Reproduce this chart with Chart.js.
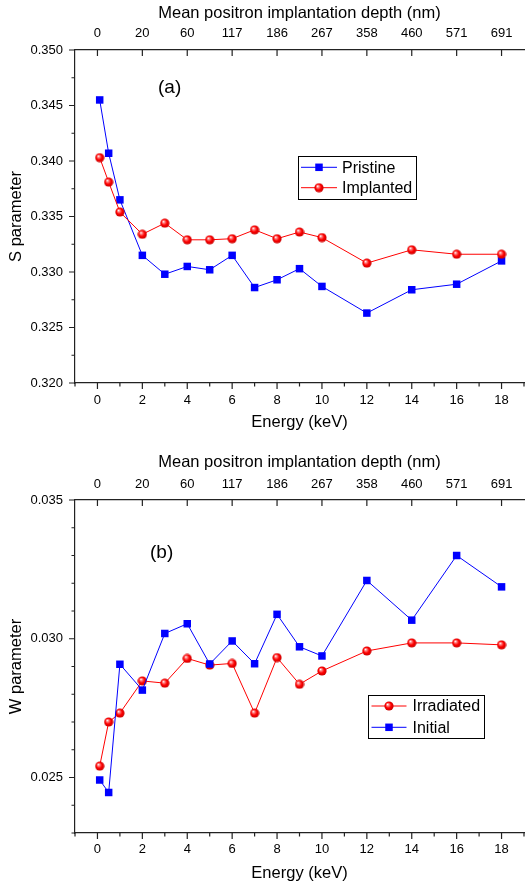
<!DOCTYPE html>
<html>
<head>
<meta charset="utf-8">
<script src="https://cdn.jsdelivr.net/npm/chart.js@4.4.0/dist/chart.umd.min.js"></script>
<style>
html, body { margin: 0; padding: 0; background: #fff; overflow: hidden; }
.panel { position: absolute; left: 0; width: 530px; height: 443px; }
</style>
</head>
<body>
<div class="panel" style="top:0"><canvas id="chartS" width="530" height="443"></canvas></div>
<div class="panel" style="top:443px"><canvas id="chartW" width="530" height="443"></canvas></div>
<script>
// beam energies (keV)
const energy = [0.1, 0.5, 1, 2, 3, 4, 5, 6, 7, 8, 9, 10, 12, 14, 16, 18];

// (a) S parameter
const sPristine  = [0.3455, 0.3407, 0.3365, 0.3315, 0.3298, 0.3305, 0.3302, 0.3315, 0.3286, 0.3293, 0.3303, 0.3287, 0.3263, 0.3284, 0.3289, 0.3310];
const sImplanted = [0.3403, 0.3381, 0.3354, 0.3334, 0.3344, 0.3329, 0.3329, 0.3330, 0.3338, 0.3330, 0.3336, 0.3331, 0.3308, 0.3320, 0.3316, 0.3316];

// (b) W parameter
const wIrradiated = [0.02541, 0.02700, 0.02732, 0.02848, 0.02840, 0.02929, 0.02905, 0.02911, 0.02732, 0.02932, 0.02836, 0.02884, 0.02956, 0.02985, 0.02985, 0.02978];
const wInitial    = [0.02491, 0.02446, 0.02908, 0.02815, 0.03019, 0.03054, 0.02909, 0.02992, 0.02910, 0.03088, 0.02971, 0.02938, 0.03210, 0.03067, 0.03300, 0.03187];

// axis ticks
const energyTicks = [0, 2, 4, 6, 8, 10, 12, 14, 16, 18];
const energyMinor = [-1, 1, 3, 5, 7, 9, 11, 13, 15, 17, 19];
const depthLabels = ['0', '20', '60', '117', '186', '267', '358', '460', '571', '691'];
const sTicks = [0.320, 0.325, 0.330, 0.335, 0.340, 0.345, 0.350];
const sMinor = [0.3225, 0.3275, 0.3325, 0.3375, 0.3425, 0.3475];
const wTicks = [0.025, 0.030, 0.035];
const wMinor = [0.023, 0.024, 0.026, 0.027, 0.028, 0.029, 0.031, 0.032, 0.033, 0.034];

const FONT = '"Liberation Sans", Arial, Helvetica, sans-serif';
const axisColor = '#222';
Chart.defaults.font.family = FONT;
Chart.defaults.color = '#000';

function makeBall() {
  const c = document.createElement('canvas');
  c.width = 10; c.height = 10;
  const g = c.getContext('2d');
  const grad = g.createRadialGradient(3.5, 3.3, 0.2, 5, 5, 5);
  grad.addColorStop(0, '#ffffff');
  grad.addColorStop(0.22, '#ff8080');
  grad.addColorStop(0.55, '#ff0000');
  grad.addColorStop(1, '#c00000');
  g.fillStyle = grad;
  g.beginPath();
  g.arc(5, 5, 4.6, 0, Math.PI * 2);
  g.fill();
  return c;
}
const ball = makeBall();

function pts(ys) {
  return energy.map((e, i) => ({ x: e, y: ys[i] }));
}

function squareSet(label, ys) {
  return {
    label: label, data: pts(ys),
    borderColor: '#0000ff', borderWidth: 1,
    pointStyle: 'rect', pointRadius: 5.3, pointBorderWidth: 0,
    pointBackgroundColor: '#0000ff', tension: 0
  };
}
function ballSet(label, ys) {
  return {
    label: label, data: pts(ys),
    borderColor: '#ff0000', borderWidth: 1,
    pointStyle: ball, pointRadius: 5, tension: 0
  };
}

// tick marks: outward on left and bottom, inward on top
const axisTicks = {
  id: 'axisTicks',
  afterDraw(chart, args, opts) {
    const ctx = chart.ctx, a = chart.chartArea;
    const x = chart.scales.x, y = chart.scales.y;
    ctx.save();
    ctx.strokeStyle = axisColor;
    ctx.lineWidth = 1.2;
    ctx.beginPath();
    const mark = (px, py, dx, dy) => { ctx.moveTo(px, py); ctx.lineTo(px + dx, py + dy); };
    energyTicks.forEach(v => {
      const p = x.getPixelForValue(v);
      mark(p, a.bottom, 0, 6);
      mark(p, a.top, 0, 6);
    });
    energyMinor.forEach(v => mark(x.getPixelForValue(v), a.bottom, 0, 3.5));
    opts.major.forEach(v => mark(a.left, y.getPixelForValue(v), -6, 0));
    opts.minor.forEach(v => mark(a.left, y.getPixelForValue(v), -3.5, 0));
    ctx.stroke();
    ctx.restore();
  }
};

// boxed legend + panel letter
const boxLegend = {
  id: 'boxLegend',
  afterDraw(chart, args, opts) {
    const ctx = chart.ctx;
    ctx.save();
    ctx.font = '19px ' + FONT;
    ctx.fillStyle = '#000';
    ctx.textBaseline = 'middle';
    ctx.textAlign = 'left';
    ctx.fillText(opts.letter.text, opts.letter.x, opts.letter.y);

    const b = opts.box;
    ctx.strokeStyle = '#000';
    ctx.lineWidth = 1;
    ctx.strokeRect(b.x + 0.5, b.y + 0.5, b.w, b.h);
    ctx.font = '16px ' + FONT;
    opts.items.forEach((it, i) => {
      const ds = chart.data.datasets[it.index];
      const cy = b.y + opts.rowY[i];
      ctx.strokeStyle = ds.borderColor;
      ctx.beginPath();
      ctx.moveTo(b.x + opts.lineX0, cy);
      ctx.lineTo(b.x + opts.lineX1, cy);
      ctx.stroke();
      const mx = b.x + (opts.lineX0 + opts.lineX1) / 2;
      if (ds.pointStyle === 'rect') {
        ctx.fillStyle = ds.pointBackgroundColor;
        ctx.fillRect(mx - 3.75, cy - 3.75, 7.5, 7.5);
      } else {
        ctx.drawImage(ball, mx - 5, cy - 5);
      }
      ctx.fillStyle = '#000';
      ctx.fillText(ds.label, b.x + opts.textX, cy + 1);
    });
    ctx.restore();
  }
};

function makeScales(c) {
  const tickFont = { size: 13 };
  const titleFont = { size: 16.5 };
  const setEnergyTicks = s => { s.ticks = energyTicks.map(v => ({ value: v })); };
  return {
    x: {
      type: 'linear', position: 'bottom', min: -1, max: 19,
      afterBuildTicks: setEnergyTicks,
      afterFit: s => { s.height = c.bottomH; },
      grid: { display: false, drawTicks: false },
      border: { display: true, color: axisColor, width: 1.2 },
      ticks: { padding: c.bottomPad, font: tickFont, color: '#000', maxRotation: 0, autoSkip: false,
               callback: v => String(v) },
      title: { display: true, text: 'Energy (keV)', font: titleFont, color: '#000',
               padding: { top: 0, bottom: c.bottomTitlePad } }
    },
    xTop: {
      type: 'linear', position: 'top', min: -1, max: 19,
      afterBuildTicks: setEnergyTicks,
      afterFit: s => { s.height = c.topH; },
      grid: { display: false, drawTicks: false },
      border: { display: true, color: axisColor, width: 1.2 },
      ticks: { padding: c.topPad, font: tickFont, color: '#000', maxRotation: 0, autoSkip: false,
               callback: v => depthLabels[energyTicks.indexOf(v)] },
      title: { display: true, text: 'Mean positron implantation depth (nm)', font: titleFont, color: '#000',
               padding: { top: c.topTitlePad, bottom: 0 } }
    },
    y: {
      type: 'linear', position: 'left', min: c.yMin, max: c.yMax,
      afterBuildTicks: s => { s.ticks = c.yTicks.map(v => ({ value: v })); },
      afterFit: s => { s.width = 75; },
      grid: { display: false, drawTicks: false },
      border: { display: true, color: axisColor, width: 1.2 },
      ticks: { padding: 12, font: tickFont, color: '#000', callback: v => v.toFixed(3) },
      title: { display: true, text: c.yTitle, font: titleFont, color: '#000',
               padding: { top: 6.2, bottom: 0 } }
    }
  };
}

const common = {
  responsive: false,
  animation: false,
  events: [],
  layout: { padding: 0 },
};

new Chart(document.getElementById('chartS'), {
  type: 'line',
  data: { datasets: [ballSet('Implanted', sImplanted), squareSet('Pristine', sPristine)] },
  options: Object.assign({}, common, {
    scales: makeScales({ bottomH: 60, topH: 50, bottomPad: 10, topPad: 9, bottomTitlePad: 10.2, topTitlePad: 3.6,
                         yMin: 0.320, yMax: 0.350, yTicks: sTicks, yTitle: 'S parameter' }),
    plugins: {
      legend: { display: false }, tooltip: { enabled: false },
      axisTicks: { major: sTicks, minor: sMinor },
      boxLegend: {
        letter: { text: '(a)', x: 158, y: 88 },
        box: { x: 298, y: 156, w: 118, h: 43 },
        rowY: [11.3, 31.7], lineX0: 3, lineX1: 39, textX: 44,
        items: [{ index: 1 }, { index: 0 }]
      }
    }
  }),
  plugins: [axisTicks, boxLegend]
});

new Chart(document.getElementById('chartW'), {
  type: 'line',
  data: { datasets: [squareSet('Initial', wInitial), ballSet('Irradiated', wIrradiated)] },
  options: Object.assign({}, common, {
    scales: makeScales({ bottomH: 53, topH: 57, bottomPad: 8.8, topPad: 8.2, bottomTitlePad: 3, topTitlePad: 10,
                         yMin: 0.023, yMax: 0.035, yTicks: wTicks, yTitle: 'W parameter' }),
    plugins: {
      legend: { display: false }, tooltip: { enabled: false },
      axisTicks: { major: wTicks, minor: wMinor },
      boxLegend: {
        letter: { text: '(b)', x: 150, y: 110 },
        box: { x: 368, y: 252, w: 116, h: 43 },
        rowY: [11, 32.3], lineX0: 3.5, lineX1: 38.5, textX: 44.5,
        items: [{ index: 1 }, { index: 0 }]
      }
    }
  }),
  plugins: [axisTicks, boxLegend]
});
</script>
</body>
</html>
